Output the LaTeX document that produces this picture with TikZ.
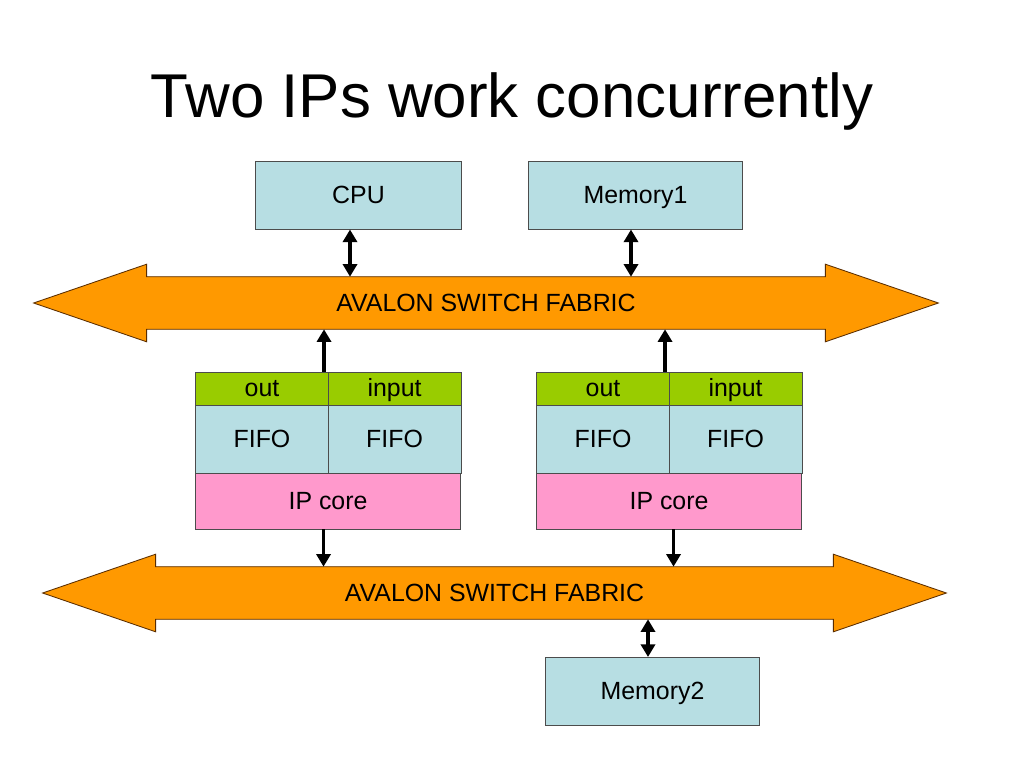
\documentclass[tikz,border=0pt]{standalone}
\usepackage{fontspec}
\setmainfont{Liberation Sans}
\usetikzlibrary{arrows.meta, positioning, calc, backgrounds}
\definecolor{boxblue}{RGB}{183,222,227}
\definecolor{portgreen}{RGB}{153,204,0}
\definecolor{corepink}{RGB}{255,153,204}
\definecolor{busorange}{RGB}{255,153,0}
\definecolor{busedge}{RGB}{90,45,0}
\tikzset{
  comp/.style={rectangle, draw=black!70, line width=0.7pt, inner sep=0pt, outer sep=0pt,
               text height=1.2em, text depth=0pt, font=\fontsize{17.7}{20}\selectfont},
  unit/.style={comp, fill=boxblue, minimum width=5.325cm, minimum height=1.7cm},
  port/.style={comp, fill=portgreen, minimum height=0.825cm},
  fifo/.style={comp, fill=boxblue, minimum height=1.7cm},
  core/.style={comp, fill=corepink, minimum width=6.625cm, minimum height=1.4cm},
  bus/.style={rectangle, inner sep=0pt, minimum height=1.3cm,
              text height=1.2em, text depth=0pt, font=\fontsize{17.7}{20}\selectfont},
  busbody/.style={fill=busorange, draw=busedge, line width=0.6pt, line join=miter},
  arr/.style={-{Triangle[width=10pt,length=9pt]}, line width=2.6pt},
  biarr/.style={{Triangle[width=10pt,length=9pt]}-{Triangle[width=10pt,length=9pt]}, line width=2.6pt},
}

\begin{document}
\begin{tikzpicture}[x=0.025cm, y=-0.025cm]
  \useasboundingbox (0,0) rectangle (1024,768);
  \node[anchor=base, font=\fontsize{44}{52}\selectfont] (title) at (512,118) {Two IPs work concurrently};

  \node[unit, minimum width=5.125cm] (cpu) at (358.5,195.5) {CPU};
  \node[unit] (mem1) at (635.5,195.5) {Memory1};

  \node[bus, minimum width=16.95cm] (bus1) at (486,303) {AVALON SWITCH FABRIC};
  \node[bus, minimum width=16.925cm] (bus2) at (494.5,593) {AVALON SWITCH FABRIC};

  \begin{scope}[on background layer]
    \fill[white] (0,0) rectangle (1024,768);
    \foreach \b in {bus1, bus2}
      \draw[busbody] (\b.north west) -- ++(0,-12.5) -- ($(\b.west)+(-113,0)$)
        -- ($(\b.south west)+(0,12.5)$) -- (\b.south west) -- (\b.south east)
        -- ++(0,12.5) -- ($(\b.east)+(113,0)$) -- ($(\b.north east)+(0,-12.5)$)
        -- (\b.north east) -- cycle;
  \end{scope}

  \node[port, minimum width=3.3cm] (out1) at (262,388.5) {out};
  \node[port, minimum width=3.325cm, right=0pt of out1] (in1) {input};
  \node[fifo, minimum width=3.3cm, below=0pt of out1] (fa1) {FIFO};
  \node[fifo, minimum width=3.325cm, below=0pt of in1] (fb1) {FIFO};
  \node[core, below=0pt of fa1.south east] (core1) {IP core};

  \node[port, minimum width=3.3cm] (out2) at (603,388.5) {out};
  \node[port, minimum width=3.325cm, right=0pt of out2] (in2) {input};
  \node[fifo, minimum width=3.3cm, below=0pt of out2] (fa2) {FIFO};
  \node[fifo, minimum width=3.325cm, below=0pt of in2] (fb2) {FIFO};
  \node[core, below=0pt of fa2.south east] (core2) {IP core};

  \node[unit] (mem2) at (652.5,691) {Memory2};

  \draw[biarr] ($(cpu.south)+(-8.5,0)$) -- ($(cpu.south |- bus1.north)+(-8.5,0)$);
  \draw[biarr] ($(mem1.south)+(-4.5,0)$) -- ($(mem1.south |- bus1.north)+(-4.5,0)$);
  \draw[arr] ($(out1.north east)+(-4,0)$) -- ($(out1.north east |- bus1.south)+(-4,0)$);
  \draw[arr] ($(out2.north east)+(-4,0)$) -- ($(out2.north east |- bus1.south)+(-4,0)$);
  \draw[arr] ($(core1.south)+(-4.5,0)$) -- ($(core1.south |- bus2.north)+(-4.5,0)$);
  \draw[arr] ($(core2.south)+(4.5,0)$) -- ($(core2.south |- bus2.north)+(4.5,0)$);
  \draw[biarr] ($(mem2.north)+(-4.5,0)$) -- ($(mem2.north |- bus2.south)+(-4.5,0)$);
\end{tikzpicture}
\end{document}
